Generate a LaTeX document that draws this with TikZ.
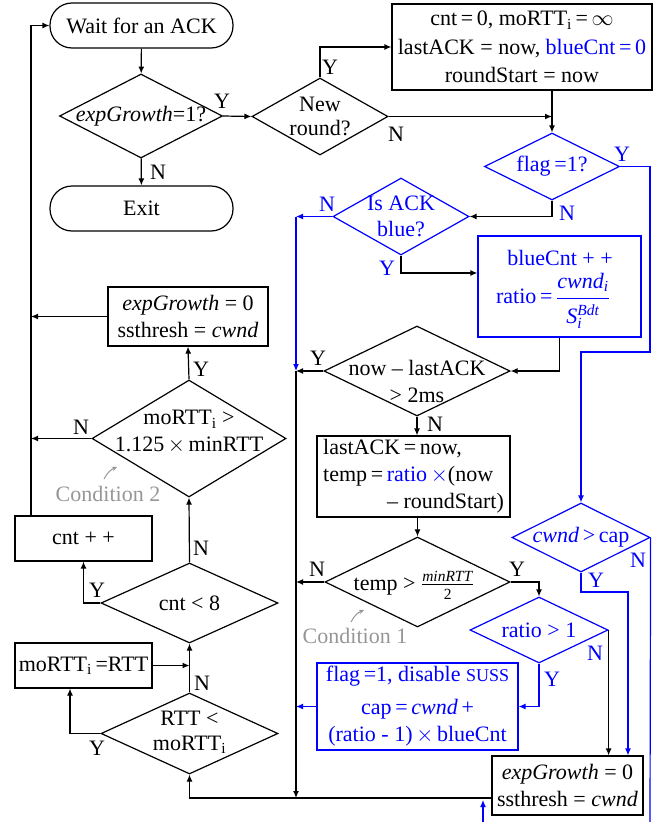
\RequirePackage{fix-cm}
\documentclass[tikz,border=0pt]{standalone}
\usepackage{fontspec}
\setmainfont{Liberation Serif}
\usetikzlibrary{shapes.geometric,arrows.meta}
\definecolor{myblue}{RGB}{0,0,255}
\definecolor{mygray}{RGB}{150,150,150}
\newcommand{\smallit}[1]{\mbox{\fontsize{15.5}{16}\selectfont\textit{#1}}}
\newcommand{\smallup}[1]{\mbox{\fontsize{15.5}{16}\selectfont #1}}
\begin{document}
\begin{tikzpicture}[x=1pt,y=-1pt,font=\fontsize{22}{27}\selectfont,line width=1.2pt,
  >={Latex[length=7pt,width=6pt]},
  box/.style={draw,rectangle,inner sep=1pt,align=center},
  dec/.style={draw,diamond,inner sep=0pt},
  term/.style={draw,rectangle,rounded corners=22pt,minimum width=183pt,minimum height=45pt},
  blu/.style={draw=myblue},
  bt/.style={text=myblue},
  cond/.style={text=mygray},
  condarrow/.style={draw=mygray,line width=1pt,-{Stealth[length=5pt,width=4.5pt]}}]
\useasboundingbox (0,0) rectangle (667,822);

% ---- nodes ----
\node[term] (wait) at (141.5,25.5) {Wait for an ACK};
\node[term] (exit) at (141.5,208.5) {Exit};
\node[dec,minimum width=163pt,minimum height=84pt] (eg) at (141,116) {};
\node (egt) at (eg) {\textit{expGrowth}=1?};
\node[dec,minimum width=136pt,minimum height=77pt] (nr) at (320,116.5) {};
\node[align=center,font=\fontsize{22}{24}\selectfont] (nrt) at (nr) {New\\round?};
\node[box,minimum width=260pt,minimum height=86pt,font=\fontsize{22}{28.5}\selectfont] (init) at (522,47)
  {cnt\,=\,0, moRTT\textsubscript{i}\,=\,$\infty$\\lastACK = now, \textcolor{myblue}{blueCnt\,=\,0}\\roundStart = now};
\node[dec,draw=myblue,minimum width=135pt,minimum height=67pt] (flag) at (552,166.5) {};
\node[bt] (flagt) at (flag) {flag\,=1?};
\node[dec,draw=myblue,minimum width=136pt,minimum height=77pt] (ack) at (401,216.5) {};
\node[bt,align=center,font=\fontsize{22}{26}\selectfont] (ackt) at (ack) {Is ACK\\blue?};
\node[box,draw=myblue,minimum width=163pt,minimum height=101pt] (blue) at (559.5,286.5) {};
\node[bt] (bluet1) at (560,258) {blueCnt + +};
\node[bt] (bluet2) at (553,301)
  {ratio\,=\,$\displaystyle\frac{\mbox{\rule[-3pt]{0pt}{17pt}\textit{cwnd}\textsubscript{\textit{i}}}}{\mbox{\rule{0pt}{24pt}\textit{S}$^{\smallit{Bdt}}_{\smallit{i}}$}}$};
\node[dec,minimum width=186pt,minimum height=90pt] (now) at (417,371) {};
\node[align=center] (nowt) at (417,381) {now -- lastACK\\> 2ms};
\node[box,minimum width=193pt,minimum height=81pt,align=left] (lack) at (413.5,476.5)
  {lastACK\,=\,now,\\temp\,=\,\textcolor{myblue}{ratio\,$\times$}(now\\\hspace*{64pt}-- roundStart)};
\node[dec,minimum width=185pt,minimum height=90pt] (temp) at (417.5,582) {};
\node (tempt) at (414,585) {temp > $\frac{\rule[-3pt]{0pt}{12pt}\smallit{minRTT}}{\rule{0pt}{14pt}\smallup{2}}$};
\node[dec,draw=myblue,minimum width=138pt,minimum height=66pt] (ratio) at (539,630) {};
\node[bt] (ratiot) at (ratio) {ratio > 1};
\node[box,draw=myblue,text=myblue,minimum width=201pt,minimum height=87pt] (flagbox) at (417.5,706.5)
  {flag\,=1, disable {\fontsize{18}{20}\selectfont SUSS}\\[6pt]cap\,=\,\textit{cwnd}\,+\\(ratio - 1)\,$\times$\,blueCnt};
\node[dec,draw=myblue,minimum width=138pt,minimum height=69pt] (cwnd) at (581,537.5) {};
\node[bt] (cwndt) at (cwnd) {\textit{cwnd}\,>\,cap};
\node[box,minimum width=151pt,minimum height=59pt] (fin) at (567.5,785.5) {\textit{expGrowth} = 0\\ssthresh = \textit{cwnd}};
\node[box,minimum width=160pt,minimum height=59pt] (eg0) at (188,316.5) {\textit{expGrowth} = 0\\ssthresh = \textit{cwnd}};
\node[dec,minimum width=194pt,minimum height=117pt] (mo) at (189,438.5) {};
\node[align=center] (mot) at (189,432) {moRTT\textsubscript{i} >\\1.125\,$\times$\,minRTT};
\node[box,minimum width=137pt,minimum height=45pt] (cntpp) at (83.5,538.5) {cnt + +};
\node[dec,minimum width=177pt,minimum height=80pt] (cnt8) at (189.5,603) {};
\node (cnt8t) at (cnt8) {cnt < 8};
\node[box,minimum width=137pt,minimum height=45pt] (morb) at (83.5,665.5) {moRTT\textsubscript{i}\,=RTT};
\node[dec,minimum width=177pt,minimum height=81pt] (rtt) at (189.5,733.5) {};
\node[align=center,font=\fontsize{22}{25}\selectfont] (rttt) at (189.5,732) {RTT <\\moRTT\textsubscript{i}};

\node[cond] (c2) at (108,494) {Condition 2};
\node[cond] (c1) at (355,636) {Condition 1};

% ---- helper coordinates ----
\coordinate (M1) at (296,216.5);
\coordinate (M2) at (296,371);
\coordinate (M3) at (296,798);
\coordinate (F1) at (650,352);
\coordinate (C1) at (628,592);
\coordinate (B1) at (483,822);
\coordinate (B2) at (483,800);
\coordinate (R1) at (650,822);

% ---- connectors ----
\draw[->] (wait) -- (eg);
\draw[->] (eg) -- (exit);
\draw[->] (eg.east) -- (nr.west);
\draw[->] (nr.north) |- (init.west);
\draw[->] (nr.east) -- (nr.east -| flag.north);
\draw[->] (init.south -| flag.north) -- (flag.north);
\draw[blu,->] (flag.east) -| (F1) -| (cwnd.north);
\draw[->] (flag.south) |- (ack.east);
\draw[blu,->] (ack.west) -- (M1);
\draw[blu,->] (M1) -- (M2);
\draw[->] (ack.south) |- (blue.west |- 0,273);
\draw[->] (blue.south) |- (now.east);
\draw[->] (now.west) -- (M2);
\draw[->] (M2) -- (M3);
\draw[->] (now.south) -- (now.south |- lack.north);
\draw[->] (lack.south -| temp.north) -- (temp.north);
\draw[->] (temp.west) -- (temp.west -| M2);
\draw[->] (temp.east) -| (ratio.north);
\draw[->] (ratio.east) -- (ratio.east |- fin.north);
\draw[blu,->] (ratio.south) |- (flagbox.east);
\draw[blu,->] (flagbox.west) -- (flagbox.west -| M2);
\draw[blu,->] (cwnd.south) |- (C1) -- (C1 |- fin.north);
\draw[blu] (cwnd.east) -- (R1);
\draw[blu,->] (B1) -- (B2);
\draw[->] (fin.west |- M3) -| (rtt.south);
\draw[->] (rtt.north) -- (cnt8.south);
\draw[->] (rtt.west) -| (70,0 |- morb.south);
\draw[->] (morb.east) -- (morb.east -| rtt.north);
\draw[->] (cnt8.west) -| (cntpp.south);
\draw[->] (cnt8.north) -- (mo.south);
\draw[->] (mo.north) -- (eg0.south);
\draw[->] (mo.west) -- (31,0 |- mo.west);
\draw[->] (eg0.west) -- (31,0 |- eg0.west);
\draw[->] (31,0 |- cntpp.north) |- (wait.west);

\draw[condarrow] (104,479) to[bend left=20] (117,467);
\draw[condarrow] (351,622) to[bend left=20] (364,610);

% ---- branch labels ----
\node (egY) at (222,101) {Y};
\node (egN) at (158,172) {N};
\node (nrY) at (330,67) {Y};
\node (nrN) at (396,134) {N};
\node (nowY) at (318,358) {Y};
\node (nowN) at (435,424) {N};
\node (tempN) at (317,569) {N};
\node (tempY) at (517,569) {Y};
\node (moY) at (201,369) {Y};
\node (moN) at (81,427) {N};
\node (cnt8N) at (201,548) {N};
\node (cnt8Y) at (97,590) {Y};
\node (rttN) at (202,683) {N};
\node (rttY) at (97,748) {Y};
\node[bt] (flagY) at (622,154) {Y};
\node[bt] (flagN) at (567,213) {N};
\node[bt] (ackN) at (327,204) {N};
\node[bt] (ackY) at (387,268) {Y};
\node[bt] (ratioN) at (595,653) {N};
\node[bt] (ratioY) at (552,679) {Y};
\node[bt] (cwndN) at (638,560) {N};
\node[bt] (cwndY) at (596,580) {Y};
\end{tikzpicture}
\end{document}
